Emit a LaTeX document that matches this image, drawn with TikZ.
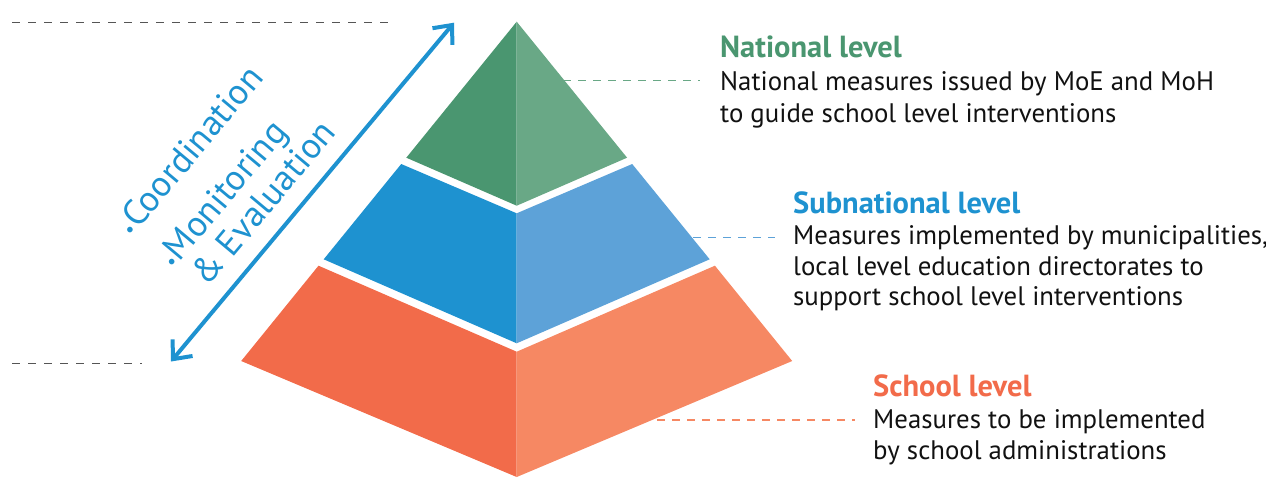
\documentclass[tikz,border=0pt]{standalone}
\usepackage{fontspec}
\setmainfont{PT Sans}
\usetikzlibrary{arrows.meta}
\definecolor{gD}{HTML}{4A9670}
\definecolor{gL}{HTML}{69A886}
\definecolor{bD}{HTML}{1E92D0}
\definecolor{bL}{HTML}{5DA2D8}
\definecolor{oD}{HTML}{F26B4A}
\definecolor{oL}{HTML}{F68863}
\definecolor{txt}{HTML}{111111}
\definecolor{grayline}{HTML}{555555}
\newcommand{\blt}{\makebox[10pt][c]{\fontsize{20}{20}\selectfont •}}
\begin{document}
\begin{tikzpicture}[x=1pt,y=-1pt,
  head/.style={anchor=base west, inner sep=0pt, font=\fontsize{30.5}{36}\selectfont\bfseries},
  body/.style={anchor=base west, inner sep=0pt, text=txt, font=\fontsize{26.8}{32}\selectfont},
  lead/.style={dash pattern=on 8pt off 7pt, line width=1.3pt},
  guide/.style={draw=grayline, dash pattern=on 8pt off 8pt, line width=1pt},
  rot/.style={anchor=base west, inner sep=0pt, rotate=50, text=bD, font=\fontsize{36}{40}\selectfont},
  bigarrow/.style={draw=bD, line width=4pt, {Straight Barb[length=15pt,width=26pt,line width=4pt]}-{Straight Barb[length=15pt,width=26pt,line width=4pt]}}
]
\useasboundingbox (0,0) rectangle (1266,477);

% pyramid
\fill[gD] (516.7,21.7) -- (406.3,157.7) -- (516.7,205.7) -- cycle;
\fill[gL] (516.7,21.7) -- (627.1,157.7) -- (516.7,205.7) -- cycle;
\fill[bD] (401.2,164) -- (323.7,259.3) -- (516.7,343.3) -- (516.7,213.3) -- cycle;
\fill[bL] (632.2,164) -- (709.7,259.3) -- (516.7,343.3) -- (516.7,213.3) -- cycle;
\fill[oD] (318.5,265.7) -- (241.2,361) -- (516.7,477) -- (516.7,351.7) -- cycle;
\fill[oL] (714.9,265.7) -- (792.2,361) -- (516.7,477) -- (516.7,351.7) -- cycle;

% guide lines
\coordinate (gt1) at (12,22);
\coordinate (gt2) at (393,22);
\coordinate (gb1) at (12,363);
\coordinate (gb2) at (142,363);
\draw[guide] (gt1) -- (gt2);
\draw[guide] (gb1) -- (gb2);

% arrow
\coordinate (arrB) at (171,361.5);
\coordinate (arrT) at (454,22.7);
\draw[bigarrow] (arrB) -- (arrT);

% rotated labels
\node[rot] (coord) at (131.5,237.8) {\blt Coordination};
\node[rot] (monit) at (173.2,270.5) {\blt Monitoring};
\node[rot] (evalu) at (207.5,288) {\& Evaluation};

% National
\node[head, text=gD] (nh) at (720,57.3) {National level};
\node[body] (n1) at (720,90.7) {National measures issued by MoE and MoH};
\node[body] (n2) at (720,122.7) {to guide school level interventions};
\coordinate (nL) at (563,80.7);
\draw[lead, draw=gL, shorten >=20pt] (nL) -- (nL -| n1.west);

% Subnational
\node[head, text=bD] (sh) at (793,213.3) {Subnational level};
\node[body] (s1) at (793,244.3) {Measures implemented by municipalities,};
\node[body] (s2) at (793,275) {local level education directorates to};
\node[body] (s3) at (793,305.7) {support school level interventions};
\coordinate (sL) at (693,237.7);
\draw[lead, draw=bL, shorten >=18pt] (sL) -- (sL -| s1.west);

% School
\node[head, text=oD] (oh) at (873,396.7) {School level};
\node[body] (o1) at (873,428.3) {Measures to be implemented};
\node[body] (o2) at (873,459.3) {by school administrations};
\coordinate (oLc) at (657,420);
\draw[lead, draw=oL, shorten >=18pt] (oLc) -- (oLc -| o1.west);
\end{tikzpicture}
\end{document}
